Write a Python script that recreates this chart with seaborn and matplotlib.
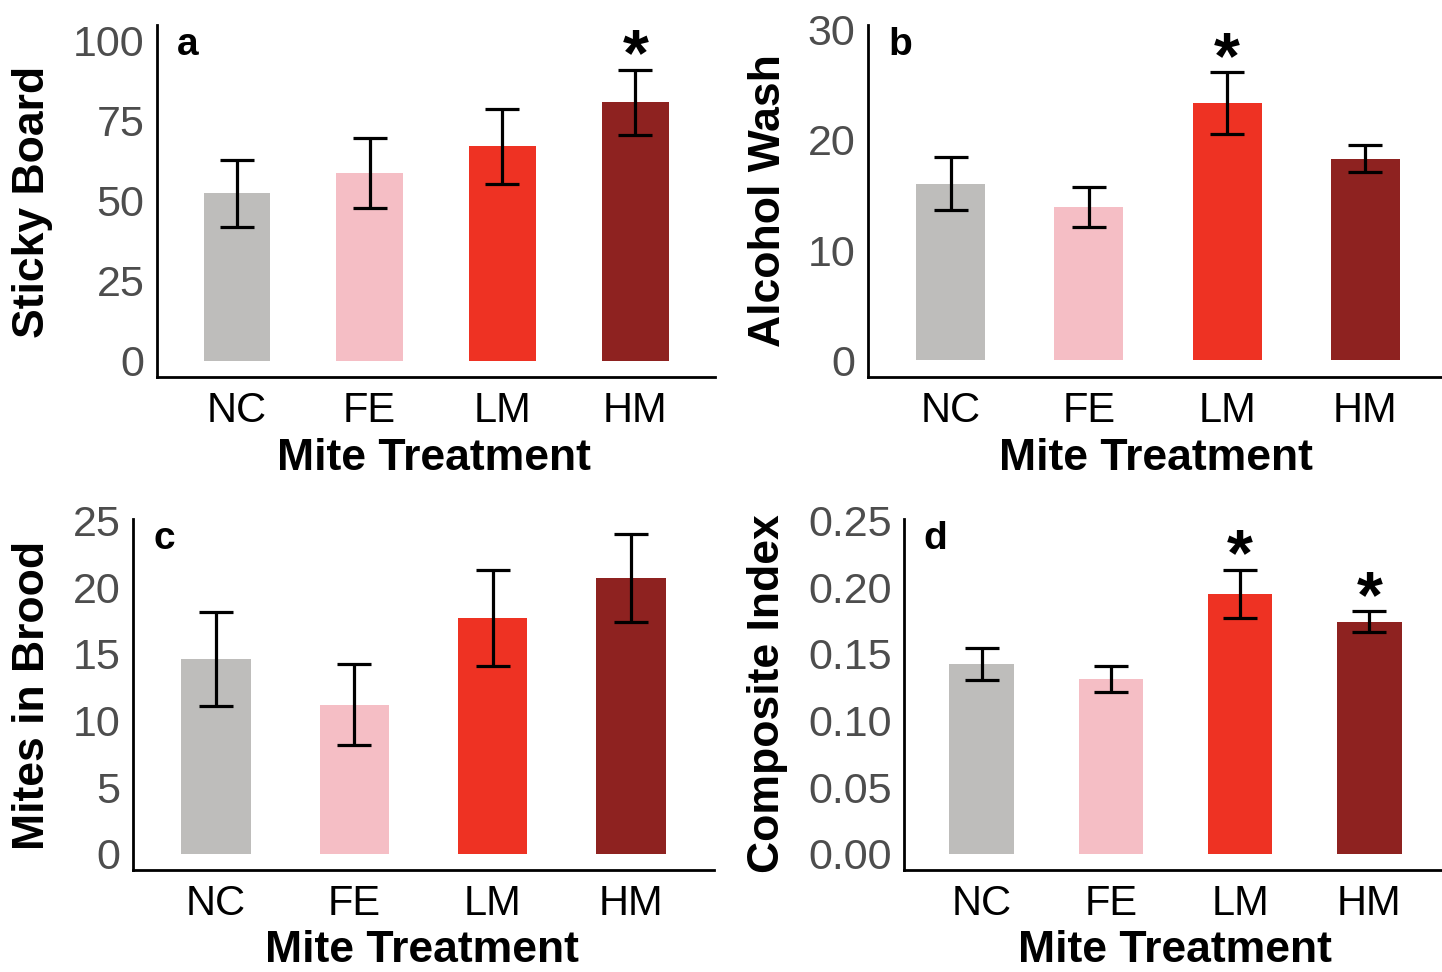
import matplotlib
matplotlib.use('Agg')
import matplotlib.pyplot as plt
import seaborn as sns

# data (mean +/- SE)
treatments = ['NC', 'FE', 'LM', 'HM']
bar_colors = ['#BEBDBB', '#F5BEC5', '#EE3223', '#8E2220']

sticky_mean = [52.2, 58.7, 66.9, 80.6]
sticky_se = [10.4, 10.9, 11.7, 10.2]
sticky_sig = [False, False, False, True]

alcohol_mean = [16.0, 13.9, 23.3, 18.3]
alcohol_se = [2.4, 1.8, 2.8, 1.2]
alcohol_sig = [False, False, True, False]

brood_mean = [14.6, 11.2, 17.7, 20.7]
brood_se = [3.5, 3.0, 3.6, 3.3]
brood_sig = [False, False, False, False]

composite_mean = [0.142, 0.131, 0.195, 0.174]
composite_se = [0.012, 0.0097, 0.018, 0.008]
composite_sig = [False, False, True, True]

sticky_ticks = [0, 25, 50, 75, 100]
alcohol_ticks = [0, 10, 20, 30]
brood_ticks = [0, 5, 10, 15, 20, 25]
composite_ticks = [0.00, 0.05, 0.10, 0.15, 0.20, 0.25]
composite_ticklabels = ['0.00', '0.05', '0.10', '0.15', '0.20', '0.25']

sns.set_style('white')
plt.rcParams['font.family'] = ['Liberation Sans', 'DejaVu Sans']
plt.rcParams['text.color'] = 'black'

W, H = 1442, 972
fig = plt.figure(figsize=(W / 100, H / 100), dpi=100)


def px_axes(left, right, top, bottom):
    return fig.add_axes([left / W, 1 - bottom / H, (right - left) / W, (bottom - top) / H])


def draw_panel(ax, means, ses, sig, yticks, yticklabels, ylim, letter):
    sns.barplot(x=treatments, y=means, hue=treatments, palette=bar_colors,
                width=0.5, saturation=1, linewidth=0, legend=False, ax=ax)
    ax.errorbar(range(len(treatments)), means, yerr=ses, fmt='none',
                ecolor='black', elinewidth=2.3, capsize=12, capthick=2.3, zorder=5)
    for i, s in enumerate(sig):
        if s:
            ax.annotate('*', xy=(i, means[i] + ses[i]), xytext=(0, -4),
                        textcoords='offset points', ha='center', va='baseline',
                        fontsize=48, fontweight='bold', color='black')
    ax.set_xlim(-0.6, 3.6)
    ax.set_ylim(*ylim)
    ax.set_yticks(yticks)
    ax.set_yticklabels(yticklabels)
    ax.set_xlabel('')
    ax.set_ylabel('')
    for side in ['top', 'right']:
        ax.spines[side].set_visible(False)
    for side in ['left', 'bottom']:
        ax.spines[side].set_linewidth(2)
        ax.spines[side].set_color('black')
    ax.tick_params(axis='both', length=6, width=1.6, color='#333333', direction='out')
    ax.tick_params(axis='y', labelsize=31, labelcolor='#4D4D4D', pad=3)
    ax.tick_params(axis='x', labelsize=30, labelcolor='black', pad=4)
    ax.set_facecolor('white')
    ax.text(0.035, 0.995, letter, transform=ax.transAxes, ha='left', va='top',
            fontsize=28, fontweight='bold', color='black')


ax_a = px_axes(157, 715, 25, 377)
ax_b = px_axes(868, 1448, 25, 377)
ax_c = px_axes(133, 714, 519, 870)
ax_d = px_axes(904, 1447, 519, 870)

draw_panel(ax_a, sticky_mean, sticky_se, sticky_sig, sticky_ticks,
           [str(t) for t in sticky_ticks], (-5, 104.7), 'a')
draw_panel(ax_b, alcohol_mean, alcohol_se, alcohol_sig, alcohol_ticks,
           [str(t) for t in alcohol_ticks], (-1.5, 30.4), 'b')
draw_panel(ax_c, brood_mean, brood_se, brood_sig, brood_ticks,
           [str(t) for t in brood_ticks], (-1.2, 25.1), 'c')
draw_panel(ax_d, composite_mean, composite_se, composite_sig, composite_ticks,
           composite_ticklabels, (-0.012, 0.251), 'd')

# axis titles
lab = dict(fontsize=32, fontweight='bold', ha='center', va='center', color='black')
fig.text(33 / W, 1 - 202 / H, 'Sticky Board', rotation=90, **lab)
fig.text(768 / W, 1 - 201 / H, 'Alcohol Wash', rotation=90, **lab)
fig.text(33 / W, 1 - 695 / H, 'Mites in Brood', rotation=90, **lab)
fig.text(768 / W, 1 - 694 / H, 'Composite Index', rotation=90, **lab)
fig.text(434 / W, 1 - 458 / H, 'Mite Treatment', **lab)
fig.text(1156 / W, 1 - 458 / H, 'Mite Treatment', **lab)
fig.text(422 / W, 1 - 950 / H, 'Mite Treatment', **lab)
fig.text(1175 / W, 1 - 950 / H, 'Mite Treatment', **lab)

fig.savefig('out.png', dpi=100, facecolor='white')
